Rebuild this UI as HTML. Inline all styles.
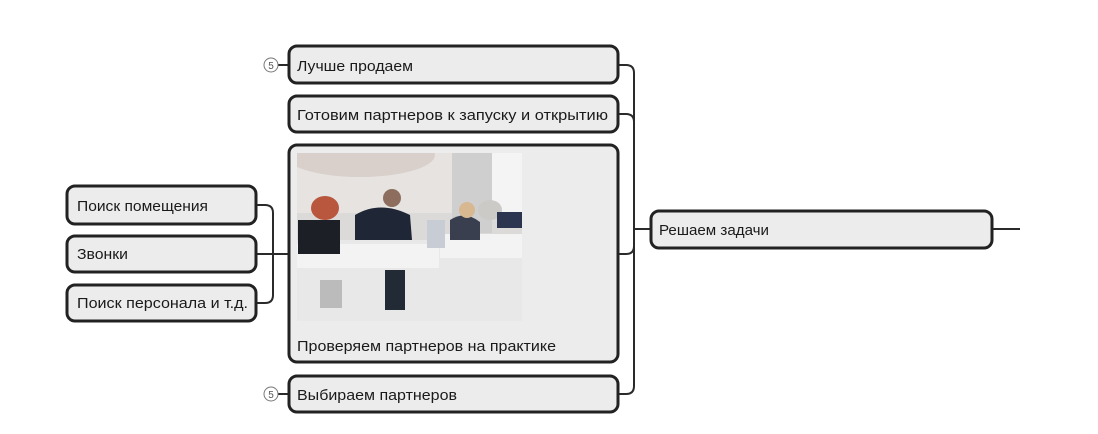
<!DOCTYPE html>
<html><head><meta charset="utf-8"><style>
html,body{margin:0;padding:0;background:#fff;width:1098px;height:434px;overflow:hidden}
text{font-family:"Liberation Sans",sans-serif;font-size:15px;fill:#1a1a1a}
</style></head><body>
<svg width="1098" height="434" viewBox="0 0 1098 434" xmlns="http://www.w3.org/2000/svg">
<defs><clipPath id="ph"><rect x="297" y="153" width="225" height="168"/></clipPath></defs>
<g fill="none" stroke="#2a2a2a" stroke-width="2">
<path d="M618 65 H626 Q634 65 634 73 V386 Q634 394 626 394 H618"/>
<path d="M618 114 H626 Q634 114 634 122"/>
<path d="M618 254 H626 Q634 254 634 246"/>
<path d="M634 229 H650"/>
<path d="M992 229 H1020"/>
<path d="M256 205 H265 Q273 205 273 213 V295 Q273 303 265 303 H256"/>
<path d="M256 254 H288"/>
<path d="M278 65 H288"/>
<path d="M278 394 H288"/>
</g>
<g fill="#ececec" stroke="#222" stroke-width="3">
<rect x="289" y="46" width="329" height="37" rx="8"/>
<rect x="289" y="96" width="329" height="36" rx="8"/>
<rect x="289" y="145" width="329" height="217" rx="8"/>
<rect x="289" y="376" width="329" height="36" rx="8"/>
<rect x="651" y="211" width="341" height="37" rx="8"/>
<rect x="67" y="186" width="189" height="38" rx="8"/>
<rect x="67" y="236" width="189" height="36" rx="8"/>
<rect x="67" y="285" width="189" height="36" rx="8"/>
</g>
<g fill="#fff" stroke="#777" stroke-width="1">
<circle cx="271" cy="65" r="7"/><circle cx="271" cy="394" r="7"/>
</g>
<text x="271" y="69" text-anchor="middle" style="font-size:10px;fill:#555">5</text>
<text x="271" y="398" text-anchor="middle" style="font-size:10px;fill:#555">5</text>
<g clip-path="url(#ph)">
<rect x="297" y="153" width="225" height="168" fill="#dcdad8"/>
<rect x="297" y="153" width="155" height="60" fill="#e6e3e1"/>
<ellipse cx="360" cy="155" rx="75" ry="22" fill="#d9cfcb"/>
<rect x="452" y="153" width="40" height="80" fill="#cfcfd0"/>
<rect x="492" y="153" width="30" height="60" fill="#f4f4f4"/>
<rect x="297" y="240" width="225" height="81" fill="#e8e8e8"/>
<rect x="297" y="244" width="142" height="24" fill="#f3f3f3"/>
<rect x="440" y="234" width="82" height="24" fill="#f3f3f3"/>
<rect x="298" y="220" width="42" height="34" fill="#1d1f26"/>
<ellipse cx="325" cy="208" rx="14" ry="12" fill="#b8563e"/>
<path d="M355 215 Q380 200 410 215 L412 240 L355 240Z" fill="#1f2636"/>
<circle cx="392" cy="198" r="9" fill="#8d6e5e"/>
<rect x="385" y="270" width="20" height="40" fill="#222a35"/>
<rect x="427" y="220" width="18" height="28" fill="#c8ccd4"/>
<path d="M450 220 Q465 210 480 222 L480 240 L450 240Z" fill="#3a3f50"/>
<circle cx="467" cy="210" r="8" fill="#d8b890"/>
<ellipse cx="490" cy="210" rx="12" ry="10" fill="#cccac6"/>
<rect x="497" y="212" width="25" height="16" fill="#2c3550"/>
<rect x="320" y="280" width="22" height="28" fill="#bbb"/>
</g>
<text x="297" y="71" textLength="116" lengthAdjust="spacingAndGlyphs">Лучше продаем</text>
<text x="297" y="120" textLength="311" lengthAdjust="spacingAndGlyphs">Готовим партнеров к запуску и открытию</text>
<text x="297" y="351" textLength="259" lengthAdjust="spacingAndGlyphs">Проверяем партнеров на практике</text>
<text x="297" y="400" textLength="160" lengthAdjust="spacingAndGlyphs">Выбираем партнеров</text>
<text x="659" y="235" textLength="110" lengthAdjust="spacingAndGlyphs">Решаем задачи</text>
<text x="77" y="211" textLength="131" lengthAdjust="spacingAndGlyphs">Поиск помещения</text>
<text x="77" y="259" textLength="51" lengthAdjust="spacingAndGlyphs">Звонки</text>
<text x="77" y="308" textLength="171" lengthAdjust="spacingAndGlyphs">Поиск персонала и т.д.</text>
</svg>
</body></html>
